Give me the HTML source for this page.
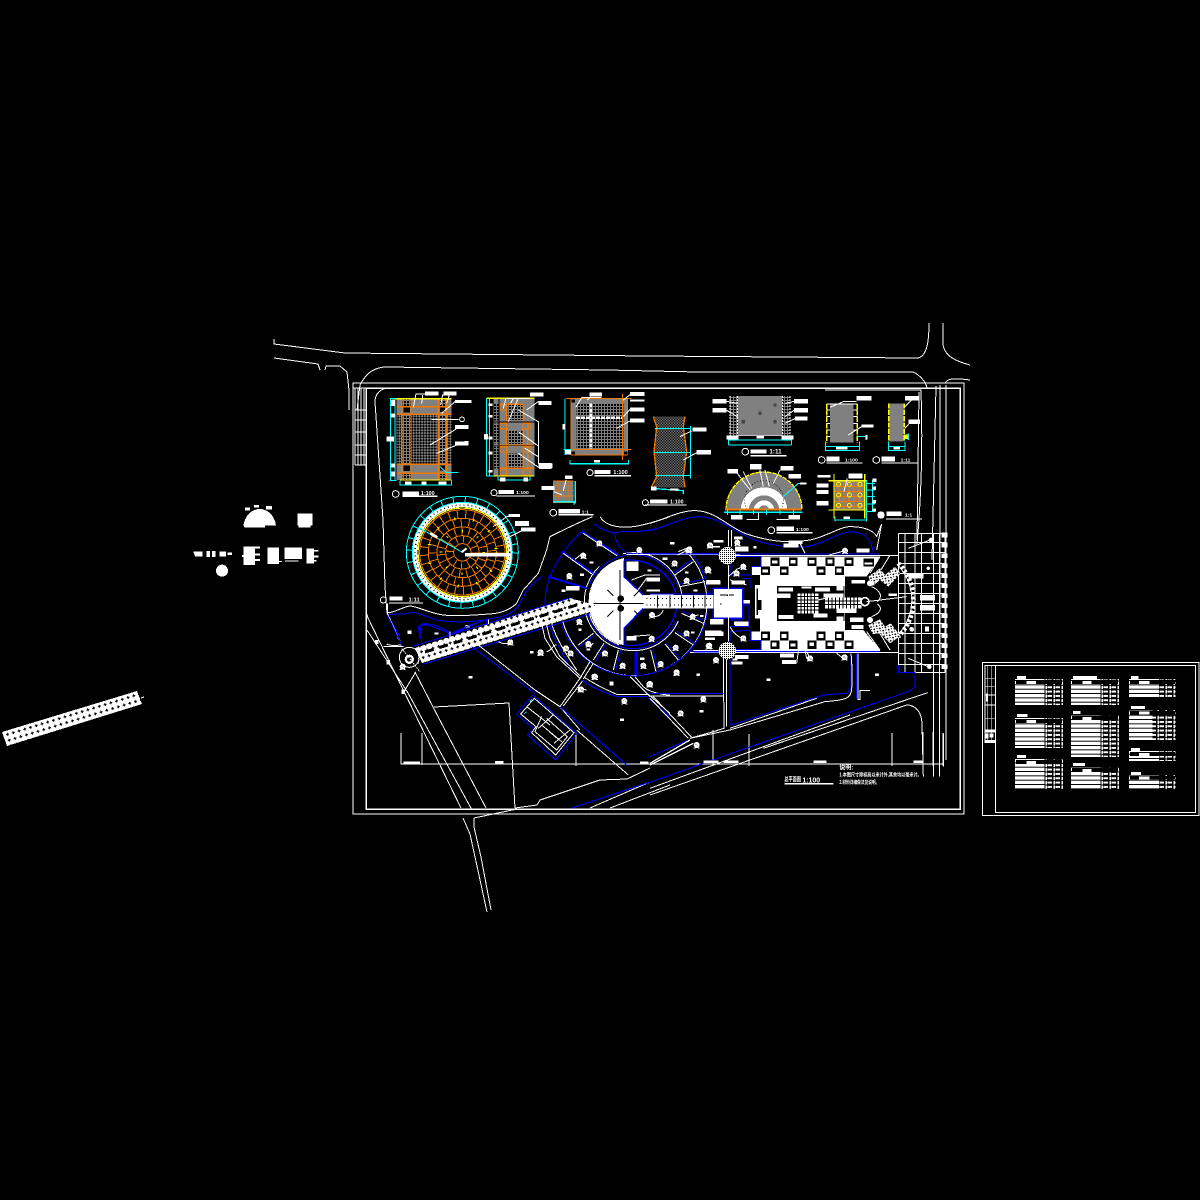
<!DOCTYPE html>
<html><head><meta charset="utf-8"><title>总平面图</title>
<style>html,body{margin:0;padding:0;background:#000;width:1200px;height:1200px;overflow:hidden}svg{display:block}
text{font-family:"Liberation Sans","Noto Sans CJK SC",sans-serif;font-weight:bold;fill:#fff}</style></head><body>
<svg xmlns="http://www.w3.org/2000/svg" width="1200" height="1200" viewBox="0 0 1200 1200" shape-rendering="crispEdges">
<defs>
<pattern id="g" width="9" height="9" patternUnits="userSpaceOnUse"><rect width="9" height="9" fill="#808080"/><rect width="6" height="6" fill="#000"/></pattern>
<pattern id="chk" width="12" height="12" patternUnits="userSpaceOnUse" patternTransform="rotate(45)"><rect width="12" height="12" fill="#808080"/><rect width="6" height="6" fill="#000"/><rect x="6" y="6" width="6" height="6" fill="#000"/></pattern>
<pattern id="chs" width="8" height="8" patternUnits="userSpaceOnUse"><rect width="8" height="8" fill="#808080"/><rect width="4" height="4" fill="#000"/><rect x="4" y="4" width="4" height="4" fill="#000"/></pattern>
<pattern id="plus" width="6" height="6" patternUnits="userSpaceOnUse" patternTransform="rotate(-17)"><rect width="6" height="6" fill="#fff"/><path d="M1 2h3v1H1zM2 1h1v3H2z" fill="#000"/></pattern>
<pattern id="dots" width="6" height="6" patternUnits="userSpaceOnUse"><rect width="6" height="6" fill="#fff"/><rect width="3" height="3" fill="#000"/></pattern>
<pattern id="dotsp" width="12" height="12" patternUnits="userSpaceOnUse" patternTransform="rotate(35)"><rect width="12" height="12" fill="#fff"/><rect width="4" height="4" fill="#000"/><rect x="6" y="6" width="3" height="3" fill="#000"/></pattern>
<pattern id="lr" width="12" height="13" patternUnits="userSpaceOnUse"><rect width="12" height="13" fill="#fff"/><rect y="10" width="12" height="3" fill="#000"/></pattern>
<pattern id="tr" width="24" height="13" patternUnits="userSpaceOnUse"><rect width="24" height="13" fill="#000"/><rect x="1" y="3" width="14" height="6" fill="#fff"/><rect x="19" y="2" width="5" height="9" fill="#fff"/></pattern>
<g id="t"><circle r="9" fill="#fff"/><path d="M-9 7h5v3h-5zM4 7h5v3H4z" fill="#fff"/><path d="M-3 -2h2v2h-2zM2 1h2v2H2z" fill="#000"/></g>
</defs>
<rect width="1200" height="1200" fill="#000"/>

<!-- left loose blocks -->
<g transform="translate(180,495) scale(.3333)" fill="#fff">
<path d="M190 92C195 60 215 42 240 42C265 42 285 65 288 92H255V98H195Z"/><path d="M195 38h15v8h-15zM222 30h15v8h-15zM258 33h18v10h-18z"/>
<rect x="352" y="56" width="46" height="36"/><rect x="355" y="92" width="36" height="6"/>
<path d="M40 170h28v14H45zM80 168h10v18H80zM96 168h10v18H96zM118 170h20v14h-20zM142 172h14v8h-14z"/>
<path d="M190 155h35v55h-35zM225 155h15v6h-15zM225 175h15v6h-15zM225 192h15v6h-15zM186 180h4v6h-4z"/>
<path d="M262 157h35v50h-35zM297 198h9v3h-9z"/><path d="M313 157h53v35h-53zM315 196h40v4h-40z"/>
<path d="M380 160h22v45h-22zM402 165h14v5h-14zM402 182h14v5h-14zM402 195h8v5h-8z"/>
<circle cx="126" cy="227" r="18"/></g>
<!-- far left strip -->
<polygon points="2,732 137,691 142,704 7,746" fill="url(#plus)"/><path d="M141 698l3-1" stroke="#fff"/>

<!-- roads and frames -->
<g fill="none" stroke="#fff" stroke-width="1">
<path d="M274 339V344L345 353L650 356L918 358C926 356 929 345 929 323"/>
<path d="M274 358L318 364L320 370"/>
<path d="M325 370L326 366H340L347 372L349 390V410"/>
<path d="M943 323V345C945 356 955 361 970 365"/>
<path d="M357 410L360 385C365 375 372 368 385 367L607 370L698 372L913 372C920 375 927 383 927 389"/>
<path d="M353 388H960M945 383C948 378 955 378 970 380"/>
<rect x="353" y="383" width="611" height="431"/><rect x="366" y="388" width="594" height="421" stroke-width="1.5"/>
<path d="M375 402C375 394 380 388 390 388H478M825 390C836 390 921 390 921 390L921 400"/>
<path d="M375 402L383 520L385 587L387 613L399 640"/>
<path d="M921 390C923 450 921 500 917 544M940 385V660M946 385V760M936 386L932 560M919 392L917 540"/>
<path d="M366 612L368 618L461 808"/>
<path d="M367 630L408 693L472 810"/><path d="M415 672L433 707L486 808"/>
<path d="M434 707L509 703L515 808"/>
<path d="M401 733V764H943M422 733V765M576 733V766M713 730V766M749 734V766M892 733V766M923 732V766M943 733V766M933 732V766"/>
<path d="M515 808L537 805L540 800L600 780L627 779L650 768"/>
<path d="M463 818L470 834L487 912M474 818L474 827L481 857L491 910M474 818L517 809"/>
<path d="M650 782L590 808M670 785L610 808"/>
</g>
<path d="M650 782L572 808" stroke="#00f" fill="none"/>
<!-- left stacked rails -->
<g fill="none" stroke="#fff"><path d="M355 388V465M358 388V465M361 388V465M364 388V465"/><path d="M355 410H366M355 420H366M355 432H366M355 445H366M355 455H366M355 465H366"/></g>

<!-- upper-left details -->
<g transform="translate(350,320) scale(.3333)" fill="none" stroke-width="3">
<!-- detail 1 -->
<rect x="140" y="236" width="165" height="244" fill="#808080"/>
<rect x="185" y="285" width="80" height="148" fill="url(#chk)"/>
<rect x="140" y="285" width="15" height="148" fill="url(#chk)"/><rect x="291" y="285" width="14" height="148" fill="url(#chk)"/>
<path d="M157 285h25v148h-25zM267 285h22v148h-22zM157 238h25v20h-25zM267 238h22v20h-22zM157 462h25v18h-25zM267 462h22v18h-22z" fill="url(#g)"/>
<path d="M140 260H305M140 283H305M140 433H305M140 460H305M155 236V480M183 236V480M265 236V480M290 236V480" stroke="#f07800" stroke-width="4"/>
<path d="M160 262h20v16h-20zM270 262h15v14h-15zM160 437h20v16h-20zM270 437h15v14h-15z" fill="#000"/>
<path d="M125 236H305M150 480H305" stroke="#ffff00" stroke-width="4"/>
<path d="M122 234V482M135 234V482M118 236H140M118 482H140M150 482V495H305V482" stroke="#00ffff"/>
<path d="M123 240h12v18h-12zM123 280h12v12h-12zM123 430h12v12h-12zM123 455h12v15h-12zM110 350h22v14h-22zM165 484h20v10h-20zM215 484h15v10h-15zM265 484h25v10h-25z" fill="#fff"/>
<path d="M270 440L290 458H325" stroke="#00ffff"/>
<path d="M190 262L198 222H225M215 250L218 225M272 255L278 225H320M290 250L298 225M275 280L315 245H365M245 298H325M240 375L330 320H355M260 400L345 365H355" stroke="#fff"/>
<path d="M225 214h40v12h-40zM280 214h40v12h-40zM315 240h50v9h-50zM315 315h40v12h-40zM315 365h40v12h-40z" fill="#fff"/>
<circle cx="336" cy="298" r="7" stroke="#fff"/><circle cx="137" cy="522" r="10" stroke="#fff"/>
<rect x="157" y="514" width="50" height="12" fill="#fff"/><text x="213" y="525" font-size="16">1:100</text><rect x="157" y="527" width="106" height="4" fill="#fff"/>
<!-- detail 2 -->
<rect x="430" y="235" width="123" height="233" fill="#808080"/>
<path d="M431 252h15v50h-15zM431 310h15v60h-15zM431 380h15v65h-15zM470 255h50v45h-50zM470 330h47v42h-47zM470 400h47v42h-47z" fill="url(#g)"/>
<path d="M447 253h73M447 306h106M447 376h106M447 445h106M447 235v233M470 255v190M520 255v190M533 306v140M450 255h20v15h-20zM450 310h20v16h-20zM520 310h20v16h-20zM450 380h20v16h-20zM520 380h20v16h-20zM450 450h20v16h-20zM520 450h20v16h-20z" stroke="#f07800" stroke-width="4"/>
<path d="M447 235V468M430 306H553M430 376H553" stroke="#000" stroke-width="2"/>
<path d="M410 235H553M430 468H553" stroke="#ffff00" stroke-width="4"/>
<path d="M410 235V468M418 235V468M444 468V480H540V468M410 468H430" stroke="#00ffff"/>
<path d="M415 250h12v8h-12zM415 285h12v8h-12zM415 350h12v8h-12zM415 395h12v8h-12zM415 450h12v8h-12zM402 342h12v16h-12zM450 472h16v12h-16zM520 472h14v12h-14z" fill="#fff"/>
<path d="M460 265L468 235H540M482 250L490 235M475 305L505 235M530 270L565 245H605M505 270L565 305V430H605M505 335L565 378M525 385L565 410M505 400L570 445H605" stroke="#fff"/>
<path d="M540 217h40v12h-40zM565 243h40v12h-40zM565 430h43v14h-43z" fill="#fff"/>
<circle cx="432" cy="518" r="9" stroke="#fff"/><rect x="446" y="510" width="46" height="12" fill="#fff"/><text x="498" y="522" font-size="15">1:100</text><rect x="440" y="526" width="115" height="4" fill="#fff"/>
<!-- detail 3 -->
<rect x="663" y="235" width="170" height="170" fill="#808080"/>
<rect x="680" y="250" width="140" height="140" fill="url(#g)"/>
<path d="M678 293H818M722 250V390" stroke="#fff" stroke-width="8" stroke-dasharray="12 3"/>
<path d="M663 405H833M663 235V405M833 235V405M818 222V420M650 235H845M650 388H845" stroke="#f07800"/>
<path d="M645 235V405M660 420V432H835V420M660 430H835M640 388H665" stroke="#00ffff"/>
<path d="M637 312h8v16h-8zM645 390h18v14h-18zM732 420h18v8h-18z" fill="#fff"/>
<path d="M665 238h10v10h-10zM665 394h10v10h-10zM822 394h10v10h-10z" fill="#000"/>
<path d="M677 263L695 233H755M712 240L722 230M820 290L840 268M820 240L840 224M800 325L840 303" stroke="#fff"/>
<path d="M718 217h38v12h-38zM840 216h43v12h-43zM840 238h43v7h-43zM840 262h43v12h-43zM840 295h43v12h-43z" fill="#fff"/>
<circle cx="720" cy="458" r="9" stroke="#fff"/><rect x="733" y="450" width="48" height="12" fill="#fff"/><text x="790" y="462" font-size="17">1:100</text><rect x="733" y="465" width="110" height="4" fill="#fff"/>
<!-- small grid -->
<rect x="610" y="483" width="60" height="65" fill="#808080"/>
<path d="M610 497h62M610 512h62M610 528h62M625 483v65M640 483v65M655 483v65M610 483h60v65h-60z" stroke="#f07800" stroke-width="2"/>
<path d="M610 545h62V555M676 483V550" stroke="#00ffff" stroke-width="4"/>
<path d="M575 498h38v12h-38zM645 467h22v10h-22z" fill="#fff"/>
<path d="M612 515L636 525M648 480L640 512" stroke="#fff"/>
<circle cx="610" cy="578" r="10" stroke="#fff"/><rect x="625" y="567" width="65" height="14" fill="#fff"/><text x="695" y="580" font-size="15">1:1</text><rect x="625" y="582" width="105" height="4" fill="#fff"/>
<!-- big circle -->
<circle cx="337" cy="697" r="168" stroke="#00ffff"/>
<circle cx="337" cy="697" r="150" stroke="#00ffff"/>
<circle cx="337" cy="697" r="159" stroke="#00ffff" stroke-width="18" stroke-dasharray="3 33"/>
<circle cx="337" cy="697" r="142" stroke="#fff" stroke-width="13"/>
<circle cx="337" cy="697" r="142" stroke="#000" stroke-width="4" stroke-dasharray="3 9"/>
<circle cx="337" cy="697" r="133" stroke="#ffff00" stroke-width="4"/>
<circle cx="337" cy="697" r="128" stroke="#f07800" stroke-width="3"/>
<circle cx="337" cy="697" r="102" stroke="#f07800" stroke-width="3"/>
<circle cx="337" cy="697" r="76" stroke="#f07800" stroke-width="3"/>
<circle cx="337" cy="697" r="50" stroke="#f07800" stroke-width="3"/>
<circle cx="337" cy="697" r="26" stroke="#f07800" stroke-width="3"/>
<circle cx="337" cy="697" r="115" stroke="#f07800" stroke-width="26" stroke-dasharray="3 22"/>
<circle cx="337" cy="697" r="89" stroke="#f07800" stroke-width="26" stroke-dasharray="3 20"/>
<circle cx="337" cy="697" r="63" stroke="#f07800" stroke-width="26" stroke-dasharray="3 18"/>
<circle cx="337" cy="697" r="38" stroke="#f07800" stroke-width="24" stroke-dasharray="3 17"/>
<circle cx="337" cy="697" r="102" stroke="#ffff00" stroke-width="9" stroke-dasharray="3 54"/>
<circle cx="337" cy="697" r="64" stroke="#ffff00" stroke-width="8" stroke-dasharray="3 47"/>
<rect x="345" y="699" width="135" height="10" fill="#fff"/>
<path d="M210 625L337 697" stroke="#00ffff"/><path d="M240 640L262 652" stroke="#fff" stroke-width="8"/>
<path d="M335 697L350 685" stroke="#fff" stroke-width="6"/>
<path d="M430 620L470 590H510M480 650L520 630H555" stroke="#fff"/>
<path d="M475 582h35v8h-35zM495 603h42v15h-42zM513 623h42v12h-42z" fill="#fff"/>
<circle cx="100" cy="840" r="9" stroke="#fff"/><rect x="118" y="830" width="40" height="12" fill="#fff"/><text x="176" y="844" font-size="17">1:11</text><rect x="117" y="847" width="102" height="3" fill="#fff"/>
</g>

<!-- top-right details -->
<g transform="translate(650,320) scale(.3333)" fill="none" stroke-width="3">
<!-- curved detail 4 -->
<path d="M10 290H105L100 320L110 395L100 470L105 502H10L20 470L12 395L20 320Z" fill="url(#chs)"/>
<path d="M10 290L20 320L12 395L20 470L5 500M105 290L100 320L110 395L100 470L105 502" stroke="#f07800" stroke-width="4"/>
<path d="M15 325H122V318M12 397H122M15 466H122M122 318V475" stroke="#00ffff"/>
<path d="M3 505L100 512V522M3 505H20" stroke="#00ffff" stroke-width="4"/>
<path d="M90 350L125 333M100 420L140 398" stroke="#fff"/>
<path d="M127 322h43v12h-43zM140 390h43v14h-43zM3 500h16v12H3zM60 505h25v7h-25z" fill="#fff"/>
<rect x="0" y="538" width="52" height="12" fill="#fff"/><text x="60" y="550" font-size="16">1:100</text><rect x="-15" y="553" width="125" height="4" fill="#fff"/>
<circle cx="-14" cy="548" r="9" stroke="#fff"/>
<!-- detail 5 -->
<rect x="262" y="228" width="136" height="120" fill="#808080"/>
<path d="M240 228H262V348H240zM398 228H420V348H398z" fill="url(#g)"/>
<path d="M262 228V348M398 228V348M240 228V360M420 228V360" stroke="#fff" stroke-dasharray="6 3"/>
<path d="M236 360H425M236 375H425M236 348V375M425 348V375" stroke="#00ffff"/>
<path d="M262 346H398" stroke="#fff" stroke-dasharray="3 3"/>
<path d="M230 347h35v12h-35zM395 347h35v12h-35zM320 348h22v8h-22z" fill="#fff"/>
<path d="M188 237h42v14h-42zM188 264h42v14h-42zM432 237h42v14h-42zM432 264h42v14h-42zM435 290h38v12h-38z" fill="#fff"/>
<path d="M230 244L262 250M230 271L262 290M432 244L405 250M432 271L405 290M435 296L405 310" stroke="#fff"/>
<path d="M370 250h10v10h-10zM370 300h10v10h-10zM275 300h10v10h-10zM325 275h10v10h-10z" fill="#444"/>
<circle cx="286" cy="395" r="10" stroke="#fff"/><rect x="302" y="388" width="48" height="12" fill="#fff"/><text x="358" y="401" font-size="19">1:11</text><rect x="302" y="405" width="108" height="4" fill="#fff"/>
<!-- detail 6 -->
<rect x="540" y="252" width="70" height="116" fill="#808080"/>
<path d="M530 252V368M622 252V368" stroke="#ffff00" stroke-width="4" stroke-dasharray="16 3"/>
<path d="M530 270H540M530 290H540M530 310H540M530 330H540M530 350H540M610 270H622M610 290H622M610 310H622M610 330H622" stroke="#fff"/>
<path d="M530 252H622" stroke="#fff"/>
<path d="M527 380H628M527 365V392H628V365M622 350H648V360" stroke="#00ffff"/>
<rect x="558" y="381" width="35" height="8" fill="#fff"/><rect x="646" y="345" width="6" height="14" fill="#fff"/>
<path d="M540 262L580 245H620M595 345L635 320" stroke="#fff"/><path d="M620 228h45v14h-45zM635 313h35v10h-35z" fill="#fff"/>
<circle cx="515" cy="420" r="10" stroke="#fff"/><rect x="530" y="410" width="38" height="14" fill="#fff"/><text x="585" y="424" font-size="15">1:100</text><rect x="530" y="427" width="108" height="4" fill="#fff"/>
<!-- detail 7 -->
<rect x="718" y="250" width="42" height="115" fill="#808080"/>
<path d="M716 250V365M763 250V365" stroke="#ffff00" stroke-width="4" stroke-dasharray="16 3"/>
<path d="M715 380H765M715 365V392H765V365" stroke="#00ffff"/><rect x="762" y="343" width="12" height="14" fill="#ffff00"/><path d="M775 340V360" stroke="#00ffff" stroke-width="4"/>
<rect x="730" y="381" width="20" height="8" fill="#fff"/>
<path d="M765 228h40v14h-40zM775 298h35v14h-35z" fill="#fff"/><path d="M765 260L785 240M765 325L778 310" stroke="#fff"/>
<circle cx="679" cy="420" r="10" stroke="#fff"/><rect x="695" y="410" width="40" height="14" fill="#fff"/><text x="752" y="424" font-size="15">1:11</text><rect x="695" y="427" width="108" height="4" fill="#fff"/>
<!-- half circle -->
<path d="M228 570A114 114 0 0 1 456 570Z" fill="#808080"/>
<path d="M228 570A114 114 0 0 1 456 570" stroke="#ffff00" stroke-width="4" stroke-dasharray="14 3"/>
<path d="M272 572A70 70 0 0 1 412 572H388A46 46 0 0 0 296 572Z" fill="#fff"/>
<path d="M311 572A31 31 0 0 1 373 572H358A16 16 0 0 0 326 572Z" fill="#fff"/>
<circle cx="342" cy="540" r="58" stroke="#000" stroke-width="2" stroke-dasharray="3 6"/>
<rect x="225" y="565" width="230" height="6" fill="#f07800"/><path d="M222 577H458" stroke="#00ffff" stroke-width="4"/>
<path d="M232 569v16M270 568v16M310 568v16M350 568v16M390 568v16M430 568v16" stroke="#00ffff"/>
<path d="M262 460L300 510M280 455L305 505M330 450L340 500M345 450L358 500M390 450L370 490" stroke="#fff"/>
<path d="M400 530L445 490H470" stroke="#00ffff"/>
<path d="M232 447h32v13h-32zM300 432h35v17h-35zM392 438h38v14h-38zM415 462h38v14h-38zM450 488h20v6h-20zM243 585h35v13h-35zM415 585h35v13h-35z" fill="#fff"/>
<path d="M290 598H325V578M380 598H415" stroke="#fff"/>
<circle cx="364" cy="631" r="10" stroke="#fff"/><rect x="380" y="620" width="52" height="13" fill="#fff"/><text x="438" y="633" font-size="15">1:100</text><rect x="380" y="636" width="108" height="4" fill="#fff"/>
<!-- orange grid detail -->
<rect x="552" y="482" width="92" height="90" fill="#808080"/>
<path d="M552 500H644M552 515H644M552 530H644M552 545H644M552 560H644M567 482V572M582 482V572M597 482V572M612 482V572M627 482V572" stroke="#f07800"/>
<path d="M535 482H650M535 570H650M552 462V595M644 462V595" stroke="#ffff00" stroke-width="4"/>
<path d="M555 600H650M555 590V605M650 480V605M668 480V575M650 490H675M650 510H675M650 530H675M650 552H675M650 575H675" stroke="#00ffff"/>
<path d="M503 465h38v8h-38zM500 490h35v12h-35zM500 510h35v12h-35zM500 543h35v13h-35zM595 461h42v14h-42z" fill="#fff"/>
<path d="M668 476h12v10h-12zM668 500h10v10h-10zM668 540h10v10h-10zM668 565h10v10h-10zM580 590h20v7h-20z" fill="#fff"/>
<g stroke="#ffff00"><circle cx="566" cy="493" r="6"/><circle cx="598" cy="493" r="6"/><circle cx="630" cy="493" r="6"/><circle cx="566" cy="525" r="6"/><circle cx="598" cy="525" r="6"/><circle cx="630" cy="525" r="6"/><circle cx="566" cy="556" r="6"/><circle cx="598" cy="556" r="6"/><circle cx="630" cy="556" r="6"/></g>
<path d="M582 515L592 475" stroke="#fff"/>
<circle cx="693" cy="585" r="11" fill="#fff"/><rect x="710" y="575" width="45" height="13" fill="#fff"/><text x="765" y="590" font-size="15">1:1</text><rect x="708" y="595" width="108" height="4" fill="#fff"/>
<!-- water curves -->
<path d="M0 610C40 600 90 570 140 572C200 575 240 625 290 642C350 662 410 672 480 660C530 650 570 620 600 620C640 620 670 630 680 650" stroke="#fff"/>
<path d="M680 650L695 612M680 690L695 612" stroke="#fff"/>
<path d="M0 632C50 620 100 590 150 590C210 595 240 625 300 655C350 675 420 685 470 680C520 672 560 640 600 636C640 634 665 655 670 700" stroke="#0000ff"/>
</g>

<!-- lower boundary curves (zoom1 coords) -->
<g transform="translate(350,320) scale(.3333)" fill="none" stroke-width="3">
<path d="M750 590C765 615 800 625 850 620C890 615 930 600 960 590" stroke="#fff"/>
<path d="M795 640C810 630 850 640 900 630C930 625 950 615 970 608" stroke="#0000ff"/>
<path d="M728 590C680 610 620 640 600 650L590 690L565 760L520 810L500 850C480 870 450 880 420 882C370 885 320 890 280 885C240 880 205 860 180 858C160 860 130 880 112 878" stroke="#fff"/>
<path d="M575 770C550 790 535 800 515 840C500 880 460 890 430 895C380 905 310 910 260 900C215 885 190 870 175 880C155 885 130 880 112 885L150 950" stroke="#0000ff"/>
<path d="M112 850V880" stroke="#fff"/>
<path d="M210 955L205 920C220 905 260 925 300 940M305 945C340 925 380 910 410 898V920" stroke="#0000ff"/>
</g>

<!-- central fan area -->
<g transform="translate(530,520) scale(.3333)" fill="none" stroke-width="3">
<circle cx="310" cy="245" r="134" fill="#fff" stroke="none"/>
<path d="M282 120V170L340 225H448V100H282ZM340 265L282 325V380H448V265Z" fill="#000"/>
<path d="M282 120V170L340 225M340 265L282 325V375M282 120C360 115 420 160 438 220M282 375C360 385 425 340 440 265" stroke="#0000ff" stroke-width="4"/>
<path d="M282 120C235 125 190 170 178 225M268 375C230 360 190 330 178 280" stroke="#fff"/>
<circle cx="310" cy="245" r="141" stroke="#0000ff" stroke-dasharray="350 80" stroke-dashoffset="-60"/>
<circle cx="310" cy="245" r="147" stroke="#fff" stroke-dasharray="520 80" stroke-dashoffset="-60"/>
<!-- wheel marks -->
<path d="M190 250H340M270 150V360M232 210L250 228M232 290L250 272M330 210L312 228M330 290L312 272" stroke="#000"/>
<circle cx="272" cy="236" r="10" fill="#000"/><circle cx="272" cy="265" r="10" fill="#000"/>
<rect x="340" y="226" width="210" height="38" fill="#fff"/>
<path d="M350 235H550M350 255H550" stroke="#000" stroke-dasharray="3 15"/>
<path d="M390 230v30M425 230v30M460 230v30M495 230v30M525 230v30" stroke="#000"/>
<!-- rings -->
<path d="M98 302A220 220 0 1 0 465 90" stroke="#fff"/>
<path d="M92 304A226 226 0 1 0 475 88" stroke="#0000ff"/>
<path d="M160 30C95 90 45 170 45 250" stroke="#0000ff"/>
<path d="M45 250C50 320 90 390 130 460" stroke="#0000ff"/><path d="M55 260C60 330 100 390 140 450" stroke="#fff"/>
<!-- spokes -->
<path d="M190 340L145 375M222 370L190 420M265 390L250 450M362 390L378 455M405 372L445 420M435 338L490 375M455 280L520 310M450 200L525 185M435 165L490 125" stroke="#fff"/>
<path d="M194 344L149 380M228 372L196 424M272 392L257 452M315 395V465M320 395V465M368 388L385 452M410 370L450 416M440 333L495 370M458 274L522 303M450 192L522 178M430 160L484 120" stroke="#0000ff"/>
<path d="M155 35L265 105M95 95L190 160M55 170L170 205" stroke="#0000ff" stroke-width="6"/>
<path d="M160 40L262 108M100 100L190 165" stroke="#fff"/>
<path d="M190 15C210 10 180 20 255 40C255 65 270 85 290 100" stroke="#0000ff"/>
<path d="M290 103H630" stroke="#fff" stroke-width="3"/><path d="M290 100H565" stroke="#0000ff"/>
<path d="M480 393H570" stroke="#0000ff"/><path d="M480 398H570" stroke="#fff"/>
<!-- trees -->
<g><use href="#t" x="208" y="70"/><use href="#t" x="160" y="107"/><use href="#t" x="118" y="168"/><use href="#t" x="434" y="130"/><use href="#t" x="470" y="182"/><use href="#t" x="533" y="148"/><use href="#t" x="488" y="290"/><use href="#t" x="470" y="340"/><use href="#t" x="437" y="383"/><use href="#t" x="392" y="432"/><use href="#t" x="340" y="437"/><use href="#t" x="278" y="437"/><use href="#t" x="225" y="400"/><use href="#t" x="175" y="372"/><use href="#t" x="122" y="400"/><use href="#t" x="148" y="305"/><use href="#t" x="32" y="398"/><use href="#t" x="365" y="356"/><use href="#t" x="328" y="90"/><use href="#t" x="478" y="88"/><use href="#t" x="366" y="285"/><use href="#t" x="108" y="385"/><use href="#t" x="440" y="457"/><use href="#t" x="360" y="492"/><use href="#t" x="193" y="470"/><use href="#t" x="152" y="508"/><use href="#t" x="536" y="378"/></g>
<path d="M0 22h16v12H0zM108 198h40v14h-40zM95 208h12v8H95zM178 125h12v6h-12zM150 160h12v8h-12zM290 125h35v28h-35zM290 348h30v14h-30zM350 172h40v12h-40zM350 208h40v6h-40zM352 148h12v6h-12zM398 112h14v8h-14zM360 222h70v4h-70zM465 155h10v6h-10zM490 208h12v6h-12zM510 285h10v6h-10zM483 335h10v6h-10zM238 488h12v8h-12zM170 385h10v6h-10zM330 412h14v8h-14zM500 462h8v6h-8zM420 66h14v8h-14zM550 60h30v8h-30zM540 78h30v5h-30zM528 182h44v12h-44zM540 297h40v14h-40zM525 332h50v14h-50zM525 352h30v8h-30zM612 50h25v8h-25zM612 305h18v10h-18zM608 416h14v6h-14z" fill="#fff"/>
<path d="M135 118L160 98M180 380L190 370M305 180L345 165L390 165M320 215L350 175M370 290C390 290 395 280 400 270M295 350L360 345M445 95L470 85M480 290L505 285" stroke="#fff"/>
</g>

<!-- promenade -->
<polygon points="415,648 570,598 595,605 590,612 422,663" fill="url(#plus)"/>
<path d="M425 652L580 604" stroke="#000" stroke-width="3" stroke-dasharray="9 6"/>
<path d="M414 646L570 598M424 664L590 614" stroke="#0000ff"/>
<g transform="translate(350,600) scale(.3333)" fill="none" stroke-width="3">
<!-- west end node -->
<circle cx="178" cy="172" r="30" stroke="#fff"/><circle cx="178" cy="178" r="14" fill="#fff"/><circle cx="178" cy="178" r="7" fill="#000"/>
<path d="M155 145L210 215M205 140V190" stroke="#fff" stroke-dasharray="5 3"/>
<path d="M112 40L155 135M100 140L160 140M110 132C125 140 145 135 155 135" stroke="#fff"/><path d="M112 45L155 135" stroke="#0000ff"/>
<path d="M198 215L168 265L162 278" stroke="#fff"/>
<path d="M75 120h10v12H75zM110 180h10v14h-10zM155 268h10v14h-10zM172 92h12v10h-12zM253 98h12v6h-12zM347 75h12v8h-12zM355 228h12v8h-12zM540 153h10v8h-10zM685 85h10v8h-10zM778 245h12v10h-12zM810 355h12v8h-12z" fill="#fff"/>
<path d="M210 75L215 130M215 72C250 70 270 80 295 95V110M305 100C340 80 380 70 410 58V75" stroke="#0000ff"/>
<path d="M300 95V112M415 58V72" stroke="#fff"/>
<!-- diagonal south blue/white -->
<path d="M385 135L555 270L630 320L690 390" stroke="#fff"/>
<path d="M365 140L555 280" stroke="#0000ff"/>
<path d="M630 320L830 495" stroke="#0000ff"/>
<path d="M680 390L835 525" stroke="#fff"/>
<path d="M575 70L585 115L620 170L690 235M590 75L600 115L630 170L695 232" stroke="#fff"/>
<path d="M690 235L630 320M700 240L640 318" stroke="#fff"/>
<path d="M720 185L690 235M730 190L700 237" stroke="#fff"/>
<path d="M695 240C730 265 770 280 800 290H890L960 350" stroke="#0000ff"/>
<path d="M703 232C730 250 770 270 800 283H895L960 340" stroke="#fff"/>
<path d="M840 230L900 290M855 230L880 260C900 280 950 285 960 285" stroke="#fff"/>
<!-- building -->
<polygon points="500,343 548,285 680,400 617,480 533,405 550,385" stroke="#0000ff"/>
<polygon points="512,342 553,295 672,398 617,465 545,398 558,380" stroke="#fff"/>
<path d="M530 320L600 375M575 350L555 395L620 450L652 410L590 355M575 375L635 425M598 395L625 418M612 430L660 390M565 385L610 345" stroke="#fff"/>
<path d="M523 342L530 335M545 298L540 306" stroke="#00ffff"/>
<path d="M445 125C465 135 480 130 480 128M590 155C610 150 605 135 620 135M690 265L710 270" stroke="#fff"/>
<use href="#t" x="481" y="127"/><use href="#t" x="572" y="157"/><use href="#t" x="735" y="230"/><use href="#t" x="693" y="268"/><use href="#t" x="158" y="200"/><use href="#t" x="823" y="303"/><use href="#t" x="898" y="253"/>
<path d="M160 485h50v8h-50zM435 483h25v8h-25zM870 485h25v8h-25z" fill="#fff"/>
</g>

<!-- plaza -->
<g transform="translate(650,530) scale(.3333)" fill="none" stroke-width="3">
<!-- grid -->
<path d="M745 10V428M765 10V428M795 10V428M815 10V428M850 10V740M868 10V740M885 10V428M745 10H890M745 38H890M745 68H890M745 100H890M745 130H890M745 160H890M745 190H890M745 220H890M745 250H890M745 280H890M745 310H890M745 340H890M745 370H890M745 403H890M745 428H885" stroke="#fff" stroke-width="3"/>
<path d="M875 8h17v14h-17zM875 38h17v14h-17zM875 70h17v14h-17zM875 100h17v14h-17zM875 130h17v14h-17zM875 160h17v14h-17zM875 190h17v14h-17zM875 220h17v14h-17zM875 250h17v14h-17zM875 280h17v14h-17zM875 310h17v14h-17zM875 340h17v14h-17zM875 370h17v14h-17zM875 403h17v14h-17zM775 130h45v16h-45zM810 195h45v16h-45zM810 225h45v16h-45zM825 290h12v14h-12z" fill="#fff"/>
<path d="M775 55L840 30M775 385L835 410" stroke="#fff"/><circle cx="843" cy="30" r="7" fill="#fff"/><circle cx="838" cy="410" r="7" fill="#fff"/><circle cx="835" cy="115" r="5" fill="#fff"/><circle cx="785" cy="298" r="7" fill="#fff"/>
<path d="M745 405V428H795V470L780 483L525 572L160 700L0 757" stroke="#0000ff"/>
<path d="M833 488L340 655M600 555L0 775M770 525L300 690L0 795" stroke="#fff"/>
<path d="M770 525C800 525 815 550 816 580L820 740" stroke="#fff"/>
<path d="M868 600V740M880 610V710" stroke="#fff"/>
<!-- blue roads -->
<path d="M240 365V585L245 585L520 495L590 490L603 475V370" stroke="#0000ff"/>
<path d="M620 370V505" stroke="#0000ff"/>
<path d="M603 370C607 400 606 460 605 480C600 505 590 510 525 515L240 600L120 625" stroke="#fff"/>
<path d="M624 370V508H630V482H660" stroke="#fff"/>
<path d="M230 365V590M220 370L222 595L190 605L120 625" stroke="#fff"/>
<path d="M500 505L240 595" stroke="#fff"/>
<path d="M0 490H220" stroke="#0000ff"/><path d="M0 498H220" stroke="#fff"/>
<path d="M0 505L115 625M10 500L125 622" stroke="#fff"/>
<path d="M0 680L115 630" stroke="#0000ff"/>
<path d="M120 630L0 700M130 640L0 705" stroke="#fff" stroke-width="4"/>
<!-- top/bottom bands -->
<path d="M0 72H690M130 365H690" stroke="#0000ff" stroke-width="4"/>
<path d="M130 362H690M240 76H745M240 368H745" stroke="#fff"/>
<!-- plaza base -->
<polygon points="333,80 690,80 650,140 585,140 585,300 640,300 690,360 333,360 333,332 305,332 305,305 330,305 330,135 305,135 305,110 333,110" fill="#fff"/>
<path d="M240 85V135H305V110H333V80H240M240 355V305L300 300V332H333V358H240" stroke="#0000ff"/>
<path d="M362 82h26v26h-26zM417 82h26v26h-26zM473 82h26v26h-26zM527 82h26v26h-26zM584 82h26v26h-26zM333 110h27v25h-27zM390 110h25v25h-25zM500 110h27v25h-27zM555 110h27v25h-27zM333 305h27v27h-27zM390 305h25v27h-25zM500 305h27v27h-27zM555 305h27v27h-27zM362 332h26v25h-26zM417 332h26v25h-26zM473 332h26v25h-26zM527 332h26v25h-26zM584 332h26v25h-26z" fill="#000"/>
<path d="M366 92h16v9h-16zM422 90h14v11h-14zM477 90h16v11h-16zM532 88h16v12h-16zM590 90h14v10h-14zM338 118h16v10h-16zM394 118h16v10h-16zM505 118h16v10h-16zM560 116h14v12h-14zM338 312h14v12h-14zM394 312h16v12h-16zM506 312h14v12h-14zM560 312h14v12h-14zM366 338h14v12h-14zM422 340h14v10h-14zM478 338h14v10h-14zM533 338h14v10h-14zM590 338h14v10h-14z" fill="#fff"/>
<rect x="640" y="85" width="32" height="25" fill="#000"/><path d="M643 97h24v6h-24zM618 125h32v10h-32zM605 150h40v10h-40zM600 262h40v14h-40zM605 285h35v12h-35zM612 305h30v10h-30zM612 322h28v8h-28z" fill="#fff"/>
<!-- inner court -->
<rect x="380" y="168" width="203" height="107" fill="#000"/><path d="M380 168V275H583" stroke="#fff"/>
<path d="M385 172h44v12h-44zM380 190h42v14h-42zM495 172h45v12h-45zM385 255h45v12h-45zM490 250h42v12h-42zM455 170h30v6h-30zM560 165h20v16h-20zM560 260h20v14h-20z" fill="#fff"/>
<rect x="443" y="190" width="62" height="60" fill="#fff"/>
<path d="M453 190v60M463 190v60M473 190v60M483 190v60M494 190v60M443 200h62M443 210h62M443 220h62M443 230h62M443 240h62" stroke="#000"/>
<rect x="525" y="203" width="110" height="32" fill="#fff"/>
<path d="M535 203v32M546 203v32M557 203v32M568 203v32M579 203v32M590 203v32M601 203v32M612 203v32M623 203v32M525 213h110M525 224h110" stroke="#000"/>
<path d="M520 190h60v13h-60zM560 235h60v14h-60z" fill="#fff"/><path d="M505 210L525 205" stroke="#fff"/>
<circle cx="645" cy="215" r="12" fill="#000" stroke="#fff" stroke-width="5"/>
<!-- left connector -->
<rect x="190" y="175" width="88" height="90" fill="#fff" stroke="#0000ff" stroke-width="4"/>
<path d="M210 195h42M210 222h5M232 195v3" stroke="#000"/>
<rect x="0" y="195" width="190" height="40" fill="#fff"/>
<path d="M0 205H190M0 225H190" stroke="#000" stroke-dasharray="3 9"/>
<path d="M22 197v36M60 197v36M95 197v36M130 197v36M165 197v36" stroke="#000"/>
<path d="M0 192H190" stroke="#0000ff"/>
<path d="M278 225H297V290H240M278 145H300V175M240 270H278" stroke="#0000ff"/>
<path d="M280 210h20v10h-20zM315 165h15v100h-15z" fill="#fff"/>
<path d="M322 175v80" stroke="#000" stroke-width="4"/><rect x="324" y="210" width="10" height="30" fill="#000"/>
<path d="M180 270h40v14h-40zM165 305h55v13h-55zM170 150h40v14h-40zM255 275h40v13h-40zM245 152h40v12h-40zM255 375h40v12h-40zM245 395h32v8h-32zM390 370h42v12h-42zM396 390h42v12h-42zM255 50h40v14h-40z" fill="#fff"/>
<path d="M235 140L260 118L280 110M240 290C250 310 270 325 280 325M240 150L290 165M445 365L440 400M470 365L480 385M560 370L580 385" stroke="#fff"/>
<!-- fan right: centre (636,210) r~150 -->
<path d="M741 103A150 150 0 0 1 741 317" stroke="#fff" stroke-width="3"/>
<path d="M745 100A156 156 0 0 1 745 320" stroke="#fff" stroke-width="14" stroke-dasharray="8 6"/>
<path d="M650 215L770 200M665 170C690 180 700 200 682 215M665 260C690 250 700 235 682 222M720 75L690 125M720 360L690 310M690 80L660 130M690 360L650 305" stroke="#fff"/>
<polygon points="655,140 690,115 705,135 735,110 752,130 715,170 690,150 668,168" fill="url(#dotsp)"/>
<polygon points="655,285 690,268 705,290 722,280 752,318 720,340 690,310 668,312" fill="url(#dotsp)"/>
<rect x="715" y="190" width="26" height="8" fill="#fff"/>
<circle cx="660" cy="160" r="9" fill="#fff"/><circle cx="660" cy="270" r="9" fill="#fff"/>
<!-- round nodes -->
<circle cx="232" cy="77" r="26" fill="url(#dots)"/><circle cx="232" cy="362" r="26" fill="url(#dots)"/>
<path d="M235 0V50M235 105V335M245 0V50" stroke="#fff"/>
<!-- trees & tags -->
<use href="#t" x="116" y="60"/><use href="#t" x="260" y="130"/><use href="#t" x="280" y="110"/><use href="#t" x="280" y="325"/><use href="#t" x="480" y="385"/><use href="#t" x="584" y="382"/><use href="#t" x="585" y="62"/><use href="#t" x="175" y="120"/><use href="#t" x="160" y="507"/><use href="#t" x="92" y="550"/><use href="#t" x="178" y="347"/><use href="#t" x="198" y="390"/><use href="#t" x="80" y="428"/><use href="#t" x="140" y="645"/><use href="#t" x="262" y="38"/><use href="#t" x="180" y="46"/>
<path d="M60 36h12v8h-12zM190 30h30v8h-30zM310 48h10v8h-10zM350 445h12v8h-12zM675 430h12v8h-12zM148 540h12v8h-12zM140 430h10v7h-10zM400 40h45v12h-45zM620 55h38v12h-38zM415 32h42v10h-42z" fill="#fff"/>
<path d="M82 75L115 60M450 40L465 70M538 75L585 62M465 360L470 385" stroke="#fff"/>
<!-- title and notes -->
<text x="403" y="755" font-size="18" textLength="50" lengthAdjust="spacingAndGlyphs">总平面图</text><text x="457" y="757" font-size="21">1:100</text><rect x="403" y="759" width="148" height="5" fill="#fff"/>
<text x="568" y="718" font-size="18">说明:</text>
<text x="568" y="740" font-size="15.5" textLength="247" lengthAdjust="spacingAndGlyphs">1.本图尺寸除标高以米计外,其余均以毫米计。</text>
<text x="568" y="762" font-size="15.5" textLength="120" lengthAdjust="spacingAndGlyphs">2.材料详细做法见说明。</text>
<path d="M160 695h45M220 695h45M490 695h40M790 695h28" stroke="#fff" stroke-width="8"/>
</g>

<!-- table sheet -->
<g transform="translate(975,655) scale(.3333)" fill="none" stroke="#fff" stroke-width="3">
<rect x="22" y="22" width="650" height="460"/><rect x="61" y="31" width="601" height="441"/>
<rect x="30" y="31" width="31" height="232"/>
<path d="M38 31V263M50 31V263M30 70H61M30 95H61M30 120H61M30 150H61M30 190H61M30 225H61" stroke-width="2"/>
<path d="M31 226h29v6H31zM32 236h8v14h-8zM44 236h12v12H44zM31 255h29v7H31zM33 115h4v25h-4z" fill="#fff" stroke="none"/>
<g stroke="none">
<path d="M120 72h144v78H120zM288 72h144v78H288zM462 72h141v54H462zM120 189h144v90H120zM288 180h144v126H288zM462 165h141v90H462zM120 312h144v90H120zM288 336h144v66H288zM462 288h141v30H462zM462 360h141v42H462z" fill="url(#lr)"/>
<path d="M208 72h56v78h-56zM376 72h56v78h-56zM552 72h51v54h-51zM208 189h56v90h-56zM376 180h56v126h-56zM532 165h71v90h-71zM208 312h56v90h-56zM376 336h56v66h-56zM552 288h51v30h-51zM552 360h51v42h-51z" fill="url(#tr)"/>
<path d="M123 75h138v12H123zM291 75h138v12H291zM465 75h135v12H465zM123 192h138v12H123zM291 183h138v12H291zM465 168h135v12H465zM123 315h138v12H123zM291 339h138v12H291zM465 291h135v12H465zM465 363h135v10H465z" fill="#000"/>
<path d="M155 78h28v9h-28zM322 78h28v9h-28zM492 78h32v9h-32zM155 195h28v9h-28zM322 186h28v9h-28zM492 170h32v9h-32zM155 318h28v9h-28zM322 342h28v9h-28zM492 294h32v9h-32zM492 365h32v8h-32z" fill="#fff"/>
<path d="M126 63h27v9h-27zM294 63h72v9h-72zM468 63h22v9h-22zM126 177h32v9h-32zM294 168h22v9h-22zM468 153h42v9h-42zM126 300h27v9h-27zM294 324h36v9h-36zM468 279h27v9h-27zM468 351h30v9h-30z" fill="#fff"/>
</g>
</g>
</svg>
</body></html>
